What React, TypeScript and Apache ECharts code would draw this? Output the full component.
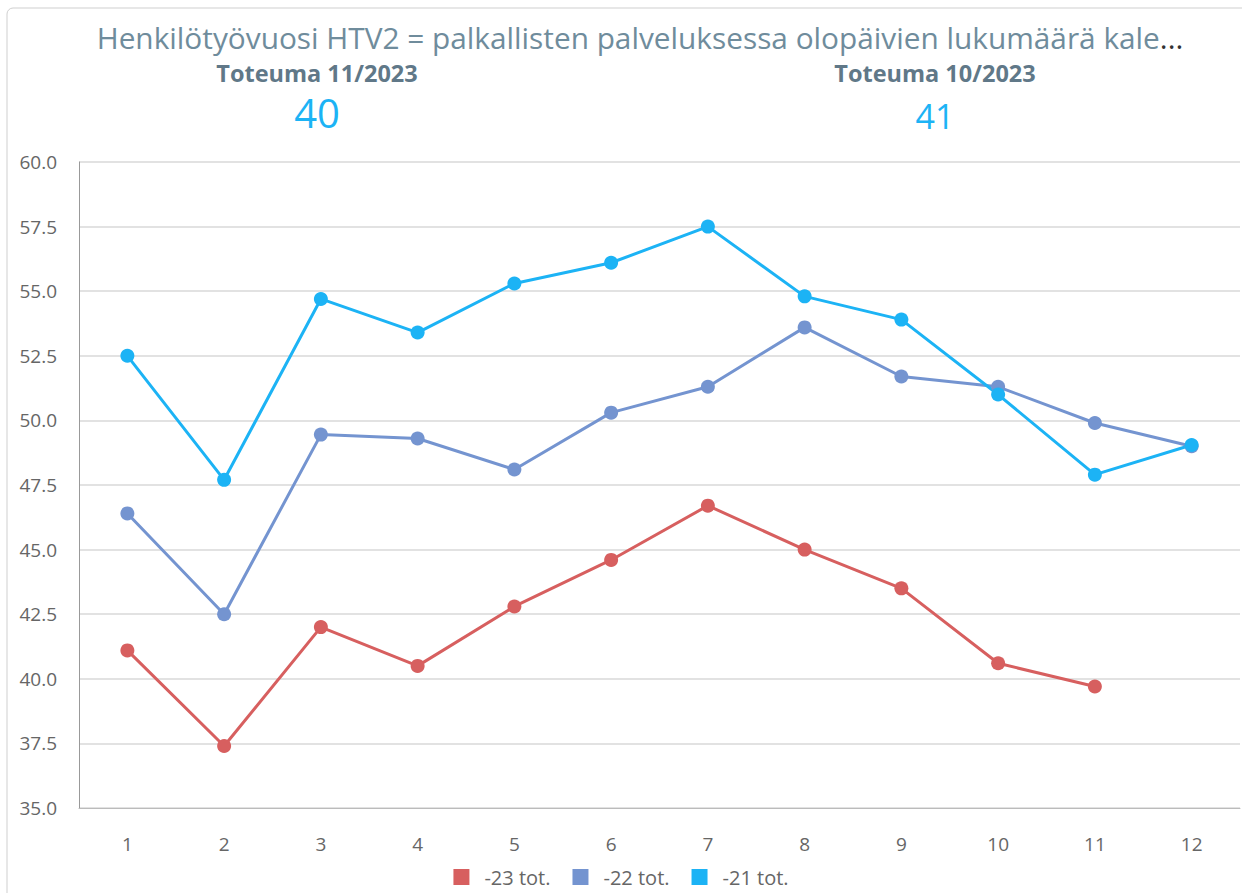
import React, { useEffect, useRef } from "react";
import * as echarts from "echarts";

const categories = ["1", "2", "3", "4", "5", "6", "7", "8", "9", "10", "11", "12"];
const series23 = [41.1, 37.4, 42.0, 40.5, 42.8, 44.6, 46.7, 45.0, 43.5, 40.6, 39.7, null];
const series22 = [46.4, 42.5, 49.45, 49.3, 48.1, 50.3, 51.3, 53.6, 51.7, 51.3, 49.9, 49.0];
const series21 = [52.5, 47.7, 54.7, 53.4, 55.3, 56.1, 57.5, 54.8, 53.9, 51.0, 47.9, 49.05];
const seriesNames = ["-23 tot.", "-22 tot.", "-21 tot."];
const colors = ["#d75f5f", "#7494d0", "#1cb3f5"];
const titleText = "Henkilötyövuosi HTV2 = palkallisten palveluksessa olopäivien lukumäärä kale";
const kpiLabels = ["Toteuma 11/2023", "Toteuma 10/2023"];
const kpiValues = ["40", "41"];

export default function App() {
  const ref = useRef<HTMLDivElement>(null);
  useEffect(() => {
    if (!ref.current) return;
    const chart = echarts.init(ref.current, null, { renderer: "svg" });
    const font = "'Open Sans', 'Noto Sans', sans-serif";
    const data = [series23, series22, series21];
    chart.setOption({
      animation: false,
      textStyle: { fontFamily: font },
      graphic: [
        {
          type: "rect",
          shape: { x: 7, y: 8, width: 1260, height: 900, r: 6 },
          style: { fill: "none", stroke: "#cfcfcf", lineWidth: 1 },
          silent: true,
        },
        {
          type: "text",
          x: 640,
          y: 37,
          style: {
            text: "{a|" + titleText + "}{b|...}",
            rich: {
              a: { fontSize: 29.8, fill: "#6f8c9c", fontFamily: font },
              b: { fontSize: 29.8, fill: "#333333", fontFamily: font },
            },
            align: "center",
            verticalAlign: "middle",
          },
        },
        {
          type: "text",
          x: 317,
          y: 73,
          style: { text: kpiLabels[0], fontSize: 23.5, fontWeight: "bold", fill: "#607888", fontFamily: font, align: "center", verticalAlign: "middle" },
        },
        {
          type: "text",
          x: 935,
          y: 73,
          style: { text: kpiLabels[1], fontSize: 23.5, fontWeight: "bold", fill: "#607888", fontFamily: font, align: "center", verticalAlign: "middle" },
        },
        {
          type: "text",
          x: 317,
          y: 112,
          style: { text: kpiValues[0], fontSize: 40, fill: "#1cb3f5", fontFamily: font, align: "center", verticalAlign: "middle" },
        },
        {
          type: "text",
          x: 935,
          y: 116,
          style: { text: kpiValues[1], fontSize: 34, fill: "#1cb3f5", fontFamily: font, align: "center", verticalAlign: "middle" },
        },
      ],
      grid: { left: 79, right: 2, top: 162, bottom: 85, containLabel: false },
      legend: {
        top: 862,
        left: "center",
        itemWidth: 16,
        itemHeight: 16,
        itemGap: 22,
        icon: "rect",
        textStyle: { fontSize: 20, color: "#666666", fontFamily: font, padding: [0, 0, 0, 10] },
        data: seriesNames,
      },
      xAxis: {
        type: "category",
        data: categories,
        boundaryGap: true,
        axisLine: { lineStyle: { color: "#bbbbbb", width: 1 } },
        axisTick: { show: false },
        axisLabel: { fontSize: 19, color: "#666666", margin: 26, fontFamily: font },
        splitLine: { show: false },
      },
      yAxis: {
        type: "value",
        min: 35,
        max: 60,
        interval: 2.5,
        axisLine: { show: true, lineStyle: { color: "#999999", width: 1 } },
        axisTick: { show: false },
        axisLabel: {
          fontSize: 19,
          color: "#666666",
          margin: 22,
          fontFamily: font,
          formatter: (v: number) => v.toFixed(1),
        },
        splitLine: { lineStyle: { color: "#d9d9d9", width: 1.5 } },
      },
      series: seriesNames.map((name, i) => ({
        name,
        type: "line",
        data: data[i],
        color: colors[i],
        symbol: "circle",
        symbolSize: 14,
        lineStyle: { width: 3, color: colors[i] },
        itemStyle: { color: colors[i] },
        connectNulls: false,
      })),
    });
    return () => chart.dispose();
  }, []);
  return (
    <div
      ref={ref}
      style={{ position: "absolute", left: 0, top: 0, width: 1242, height: 893, background: "#ffffff" }}
    />
  );
}
